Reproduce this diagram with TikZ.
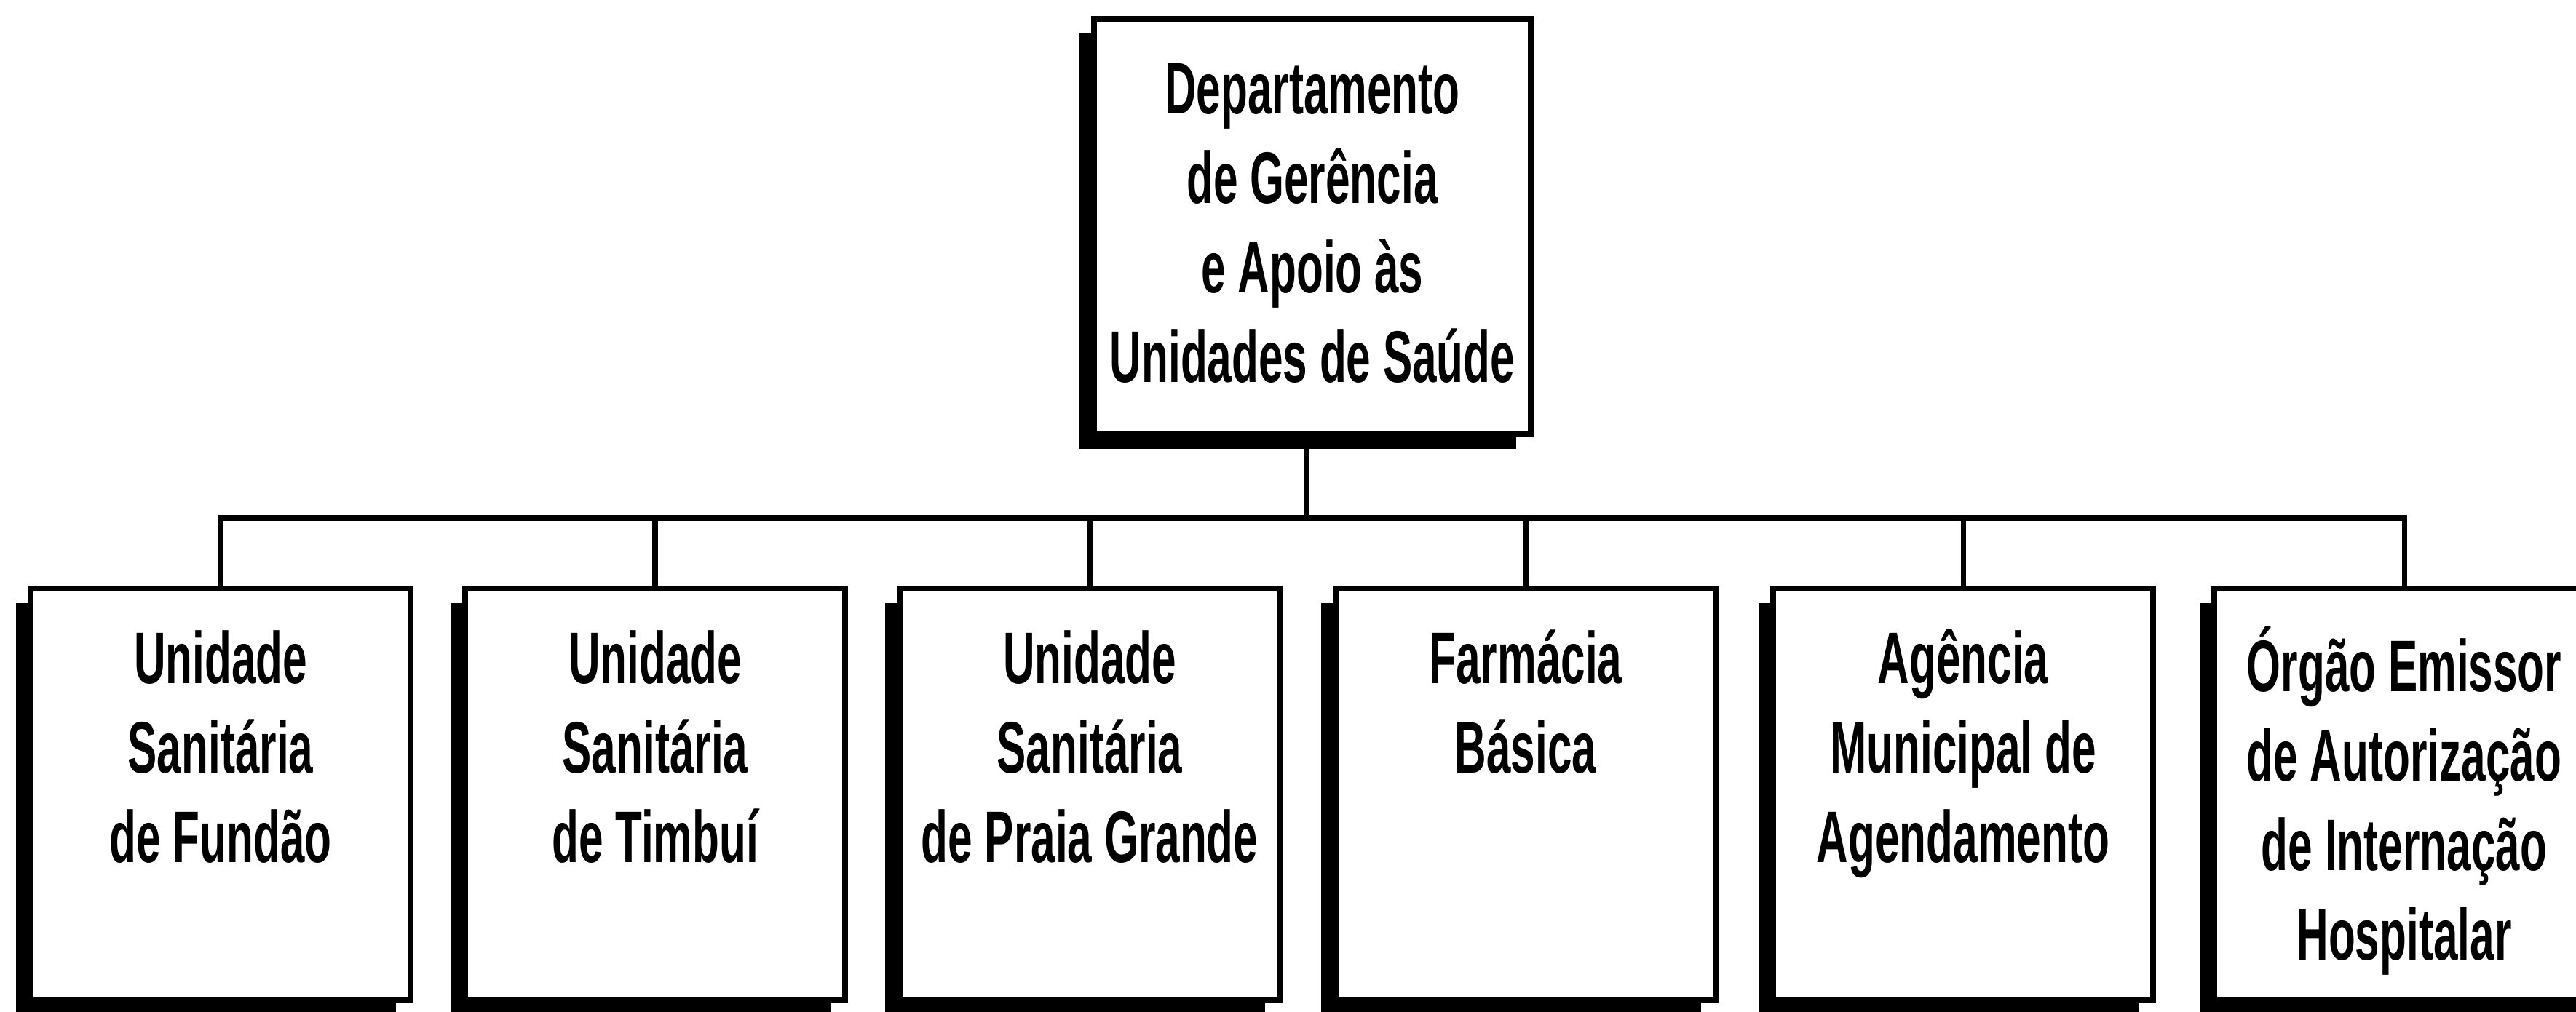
\documentclass[tikz,border=0pt]{standalone}
\usepackage{fontspec}
\setmainfont{Liberation Sans}[FakeStretch=0.6]
\usetikzlibrary{shadows}
\tikzset{
  orgbox/.style={draw=black, line width=2.1pt, fill=white, inner sep=0pt,
    minimum width=5.22cm, minimum height=5.66cm,
    drop shadow={shadow xshift=-0.2cm, shadow yshift=-0.2cm, fill=black, opacity=1}},
  topbox/.style={orgbox, minimum width=6.0cm, minimum height=5.71cm},
  orgtext/.style={anchor=north, inner sep=0pt, align=center,
    font=\fontsize{28.6}{35}\selectfont\bfseries},
  link/.style={draw=black, line width=2pt}
}
\newcommand{\fl}{\rule{0pt}{1.0cm}}
\begin{document}
\begin{tikzpicture}
\useasboundingbox (0,0) rectangle (35.39,13.90);
\clip (0,0) rectangle (35.39,13.90);
\coordinate (bar) at (0,6.78);
% top
\node[topbox] (top) at (18.03,10.785) {};
\node[orgtext] (ttop) at ([yshift=-0.33cm]top.north) {\fl Departamento\\de Gerência\\e Apoio às\\Unidades de Saúde};
% bottom
\node[orgbox] (b1) at (3.03,2.98) {};
\node[orgbox] (b2) at (9.00,2.98) {};
\node[orgbox] (b3) at (14.97,2.98) {};
\node[orgbox] (b4) at (20.96,2.98) {};
\node[orgbox] (b5) at (26.97,2.98) {};
\node[orgbox] (b6) at (33.03,2.98) {};
\node[orgtext] (t1) at ([yshift=-0.33cm]b1.north) {\fl Unidade\\Sanitária\\de Fundão};
\node[orgtext] (t2) at ([yshift=-0.33cm]b2.north) {\fl Unidade\\Sanitária\\de Timbuí};
\node[orgtext] (t3) at ([yshift=-0.33cm]b3.north) {\fl Unidade\\Sanitária\\de Praia Grande};
\node[orgtext] (t4) at ([yshift=-0.33cm]b4.north) {\fl Farmácia\\Básica};
\node[orgtext] (t5) at ([yshift=-0.33cm]b5.north) {\fl Agência\\Municipal de\\Agendamento};
\node[orgtext] (t6) at ([yshift=-0.44cm]b6.north) {\fl Órgão Emissor\\de Autorização\\de Internação\\Hospitalar};
% connectors
\draw[link] ([xshift=-0.08cm]top.south) -- ([xshift=-0.08cm]top.south |- bar);
\draw[link] (b1.north) -- (b1.north |- bar) -- (b6.north |- bar) -- (b6.north);
\draw[link] (b2.north) -- (b2.north |- bar);
\draw[link] (b3.north) -- (b3.north |- bar);
\draw[link] (b4.north) -- (b4.north |- bar);
\draw[link] (b5.north) -- (b5.north |- bar);
\end{tikzpicture}
\end{document}
